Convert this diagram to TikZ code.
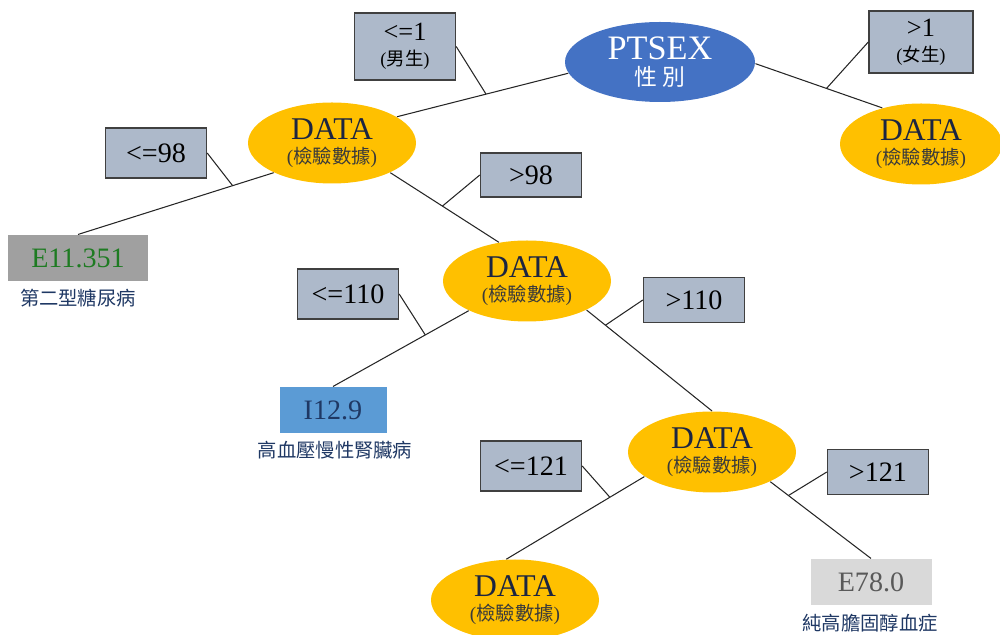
\documentclass[tikz,border=0pt]{standalone}
\usepackage{fontspec}
\setmainfont{Liberation Serif}
\newfontfamily\cjk{Noto Sans CJK TC}
\usetikzlibrary{shapes.geometric}

\definecolor{rootblue}{HTML}{4472C4}
\definecolor{datagold}{HTML}{FFC000}
\definecolor{datanavy}{HTML}{1C2541}
\definecolor{datasub}{HTML}{3A3A3A}
\definecolor{condgray}{HTML}{ADB9CA}
\definecolor{navy}{HTML}{1F3864}
\definecolor{e11fill}{HTML}{A0A0A0}
\definecolor{e11text}{HTML}{1E7B22}
\definecolor{i12fill}{HTML}{5B9BD5}
\definecolor{e78fill}{HTML}{D9D9D9}
\definecolor{e78text}{HTML}{595959}

\newcommand{\datalabel}{{\fontsize{18}{18}\selectfont DATA}\\[2pt]%
  {\fontsize{11}{12}\selectfont\color{datasub}({\cjk 檢驗數據})}}

\begin{document}
\begin{tikzpicture}[x=0.2mm, y=-0.2mm, line width=0.6pt, draw=black!85,
  every node/.style={align=center, inner sep=0pt},
  root/.style={ellipse, fill=rootblue, text=white, minimum width=38mm, minimum height=16mm},
  data/.style={ellipse, fill=datagold, text=datanavy, minimum width=33.6mm, minimum height=16.2mm},
  cond/.style={draw=black!75, line width=0.8pt, fill=condgray, minimum width=20.2mm,
    font=\fontsize{16}{18}\selectfont},
  code/.style={minimum height=9.2mm, font=\fontsize{16}{18}\selectfont},
  disease/.style={text=navy, font=\cjk\fontsize{11}{13}\selectfont}]

\useasboundingbox (0,0) rectangle (1000,635);

% tree nodes
\node[root] (sex) at (660,62) {{\fontsize{19.5}{20}\selectfont PTSEX}\\[3pt]%
  {\cjk\fontsize{13}{14}\selectfont 性\hspace{3pt}別}};
\node[data] (male) at (332,143) {\datalabel};
\node[data, minimum width=32.4mm] (female) at (921,144) {\datalabel};
\node[data] (lab2) at (527,281) {\datalabel};
\node[data] (lab3) at (712,452) {\datalabel};
\node[data] (lab4) at (515,600) {\datalabel};

% results
\node[code, fill=e11fill, text=e11text, minimum width=28mm] (e11) at (78,258) {E11.351};
\node[disease] (e11name) at (78,298) {第二型糖尿病};
\node[code, fill=i12fill, text=navy, minimum width=21.4mm] (i12) at (333,410) {I12.9};
\node[disease] (i12name) at (335,450) {高血壓慢性腎臟病};
\node[code, fill=e78fill, text=e78text, minimum width=24.2mm] (e78) at (871,582) {E78.0};
\node[disease] (e78name) at (870,623) {純高膽固醇血症};

% conditions
\node[cond, minimum height=13.4mm] (le1) at (405,46.5) {{\fontsize{15}{16}\selectfont <=1}\\[-4pt]%
  {\fontsize{10.5}{12}\selectfont({\cjk 男生})}};
\node[cond, minimum height=12.4mm, minimum width=20.8mm] (gt1) at (921,42) {{\fontsize{15}{16}\selectfont >1}\\[-4pt]%
  {\fontsize{10.5}{12}\selectfont({\cjk 女生})}};
\node[cond, minimum height=10mm] (le98) at (156,153) {<=98};
\node[cond, minimum height=8.8mm] (gt98) at (531,175) {>98};
\node[cond, minimum height=10mm] (le110) at (348,294) {<=110};
\node[cond, minimum height=9mm] (gt110) at (694,300) {>110};
\node[cond, minimum height=10mm] (le121) at (531,466) {<=121};
\node[cond, minimum height=9mm] (gt121) at (878,472) {>121};

% branches
\draw (sex.187) -- (male.22) coordinate[pos=0.48] (k1);
\draw (sex.-1) -- (female.137) coordinate[pos=0.56] (k2);
\draw (male.207) -- (e11.north) coordinate[pos=0.21] (k3);
\draw (male.-27) -- (lab2.126) coordinate[pos=0.48] (k4);
\draw (lab2.207) -- (i12.north) coordinate[pos=0.32] (k5);
\draw (lab2.-26) -- (lab3.north) coordinate[pos=0.15] (k6);
\draw (lab3.200) -- (lab4.102) coordinate[pos=0.25] (k7);
\draw (lab3.-27) -- (e78.north) coordinate[pos=0.18] (k8);
\foreach \c/\k in {le1.east/k1, gt1.west/k2, le98.east/k3, gt98.west/k4,
                   le110.east/k5, gt110.west/k6, le121.east/k7, gt121.west/k8}
   {
	\draw (\c) -- (\k);
   };
\end{tikzpicture}
\end{document}
